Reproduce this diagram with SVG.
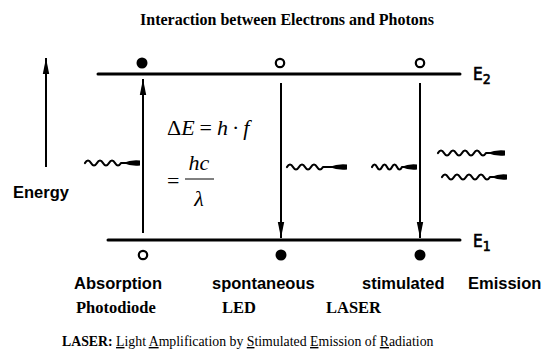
<svg xmlns="http://www.w3.org/2000/svg" width="548" height="352" viewBox="0 0 548 352">
<defs>
<style>
.lvl{stroke:#000;stroke-width:3;fill:none;stroke-linecap:round}
.arr{stroke:#000;stroke-width:2;fill:none}
.wave{stroke:#000;stroke-width:2.2;fill:none;stroke-linecap:round;stroke-linejoin:round}
.blob{fill:#000}
.full{fill:#000}
.empty{fill:#fff;stroke:#000;stroke-width:2.2}
.title{font-family:"Liberation Serif","Times New Roman",serif;font-weight:bold;font-size:16px}
.lab{font-family:"Liberation Sans",Arial,sans-serif;font-weight:bold;font-size:16.5px}
.dev{font-family:"Liberation Serif","Times New Roman",serif;font-weight:bold;font-size:16.5px}
.math{font-family:"Liberation Serif","Times New Roman",serif;font-size:22px}
.it{font-style:italic}
.hand{font-family:"DejaVu Sans Condensed","DejaVu Sans",sans-serif;font-size:17px;stroke:#000;stroke-width:0.6}
.foot{font-family:"Liberation Serif","Times New Roman",serif;font-size:13.8px}
</style>
<marker id="ah" viewBox="0 0 16 8" refX="16" refY="4" markerWidth="16" markerHeight="8" markerUnits="userSpaceOnUse" orient="auto">
<path d="M0,0.8 L16,4 L0,7.2 Z" fill="#000"/>
</marker>
</defs>
<rect width="548" height="352" fill="#fff"/>
<text class="title" x="287" y="25" text-anchor="middle">Interaction between Electrons and Photons</text>

<g id="levels">
<line class="lvl" x1="98" y1="74" x2="460" y2="74"/>
<line class="lvl" x1="108" y1="240" x2="460" y2="240"/>
<text class="hand" x="473" y="80">E<tspan font-size="14" dy="4">2</tspan></text>
<text class="hand" x="473" y="247">E<tspan font-size="14" dy="4">1</tspan></text>
</g>

<g id="energy-axis">
<line class="arr" x1="46" y1="167" x2="46" y2="58" marker-end="url(#ah)"/>
<text class="lab" x="13" y="198" font-size="19.5">Energy</text>
</g>

<g id="absorption">
<circle class="full" cx="142" cy="63" r="5.5"/>
<circle class="empty" cx="143" cy="255" r="4.2"/>
<text class="lab" x="74" y="289">Absorption</text>
<text class="dev" x="76" y="313">Photodiode</text>
</g>

<g id="spontaneous">
<circle class="empty" cx="280" cy="63" r="4.2"/>
<circle class="full" cx="281" cy="255" r="5.5"/>
<text class="lab" x="212" y="289">spontaneous</text>
<text class="dev" x="222" y="313">LED</text>
</g>

<g id="stimulated">
<circle class="empty" cx="420" cy="63" r="4.2"/>
<circle class="full" cx="420" cy="255" r="5.5"/>
<text class="lab" x="362" y="289">stimulated</text>
<text class="lab" x="468" y="289">Emission</text>
<text class="dev" x="326" y="313">LASER</text>
</g>

<g id="formula">
<text class="math" x="167" y="135">Δ<tspan class="it">E</tspan><tspan dx="5">=</tspan><tspan class="it" dx="5">h</tspan><tspan dx="4">·</tspan><tspan class="it" dx="4">f</tspan></text>
<text class="math" x="167" y="188">=</text>
<text class="math it" x="199" y="170" text-anchor="middle">hc</text>
<line x1="185" y1="179" x2="214" y2="179" stroke="#000" stroke-width="1"/>
<text class="math it" x="199" y="206" text-anchor="middle">λ</text>
</g>

<g id="connectors">
<line class="arr" x1="143" y1="233" x2="143" y2="79" marker-end="url(#ah)"/>
<line class="arr" x1="281" y1="83" x2="281" y2="238" marker-end="url(#ah)"/>
<line class="arr" x1="420" y1="83" x2="420" y2="238" marker-end="url(#ah)"/>

<path class="wave" d="M85,163 q3,-5 6,0 t6,0 t6,0 t6,0 t6,0 t6,0 L126,163"/>
<path class="blob" d="M123,163 Q131,159.5 140,160.5 L140,165.5 Q131,166.5 123,163 Z"/>

<path class="wave" d="M287,167 q3,-5 6,0 t6,0 t6,0 t6,0 t6,0 t6,0 L332,167"/>
<path class="blob" d="M329,167 Q338,163.5 347,164.5 L347,169.5 Q338,170.5 329,167 Z"/>

<path class="wave" d="M372,167 q2.5,-5 5,0 t5,0 t5,0 t5,0 t5,0 t5,0 L404,167"/>
<path class="blob" d="M401,167 Q409,163.5 417,164.5 L417,169.5 Q409,170.5 401,167 Z"/>

<path class="wave" d="M438,153 q3,-5 6,0 t6,0 t6,0 t6,0 t6,0 t6,0 t6,0 t6,0 L490,153"/>
<path class="blob" d="M487,153 Q496,149.5 505,150.5 L505,155.5 Q496,156.5 487,153 Z"/>

<path class="wave" d="M442,177 q3,-5 6,0 t6,0 t6,0 t6,0 t6,0 t6,0 t6,0 t6,0 L494,177"/>
<path class="blob" d="M491,177 Q499,173.5 507,174.5 L507,179.5 Q499,180.5 491,177 Z"/>
</g>

<text class="foot" x="62" y="346"><tspan font-weight="bold">LASER:</tspan> <tspan text-decoration="underline">L</tspan>ight <tspan text-decoration="underline">A</tspan>mplification by <tspan text-decoration="underline">S</tspan>timulated <tspan text-decoration="underline">E</tspan>mission of <tspan text-decoration="underline">R</tspan>adiation</text>
</svg>
